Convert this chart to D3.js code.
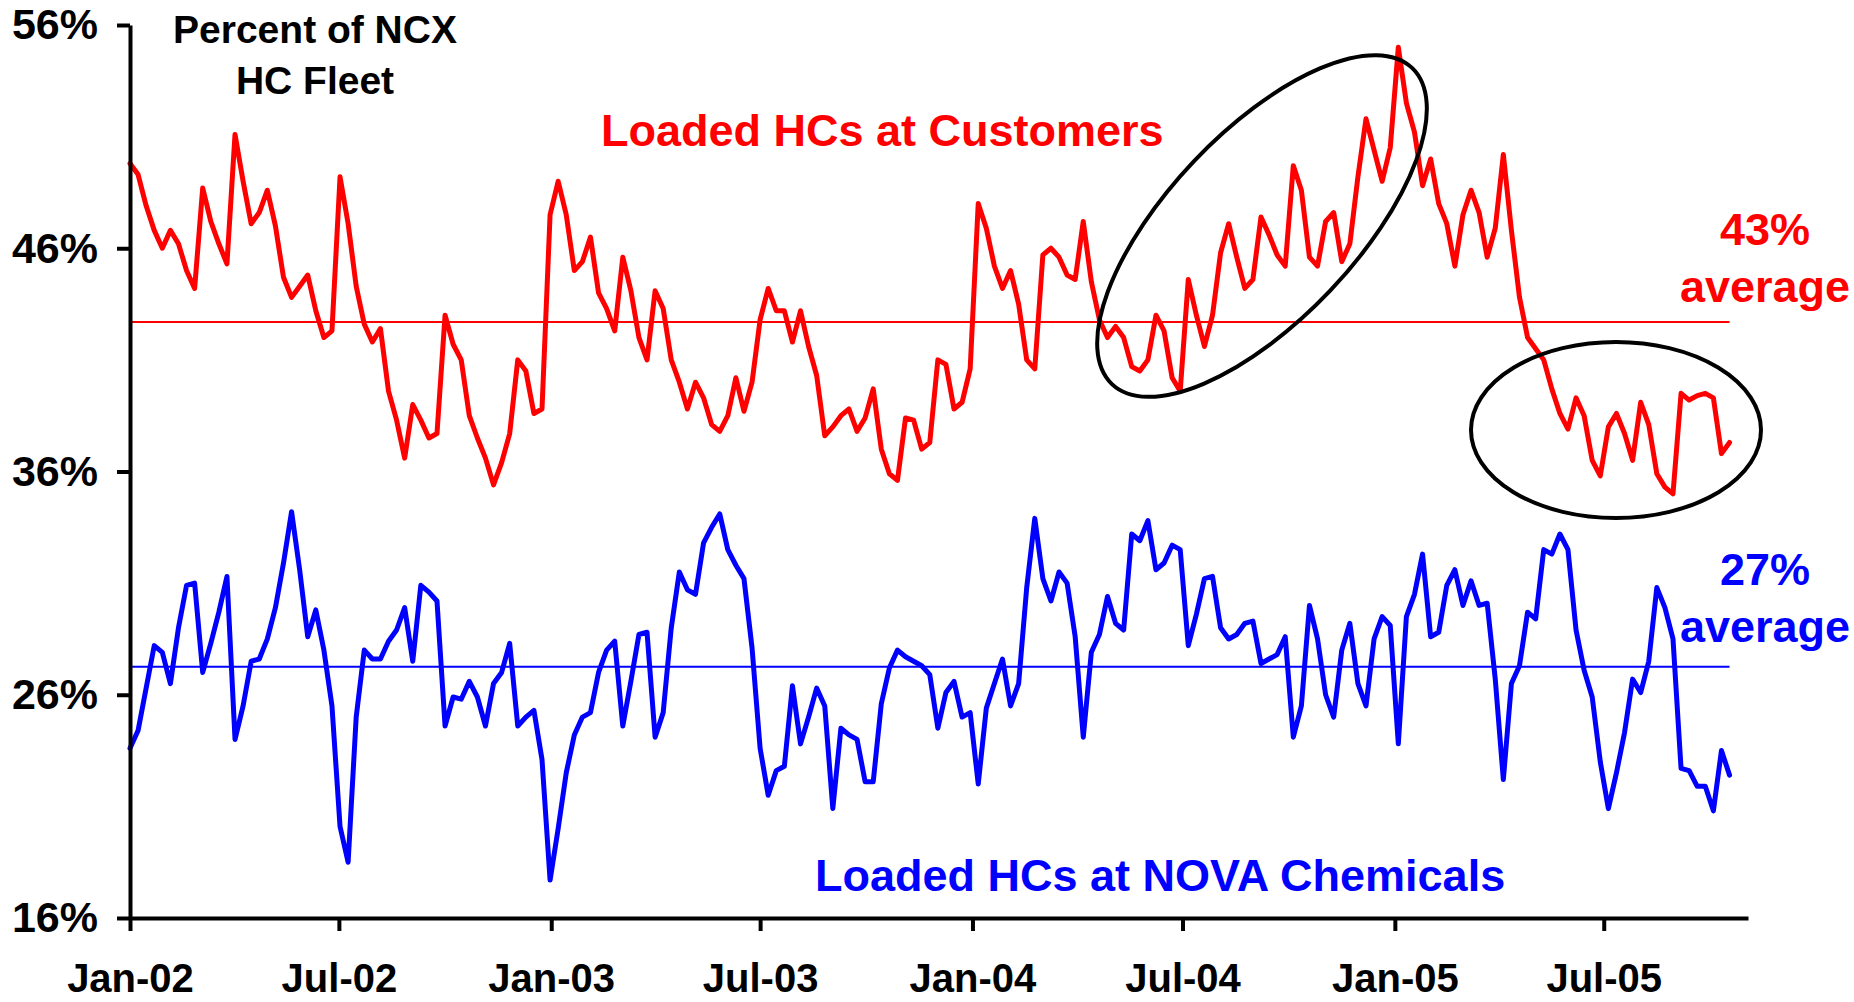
<!DOCTYPE html>
<html>
<head>
<meta charset="utf-8">
<script src="https://cdn.jsdelivr.net/npm/d3@7"></script>
<style>
  html, body { margin: 0; padding: 0; background: #ffffff; }
  svg { display: block; }
  text { font-family: "Liberation Sans", Arial, sans-serif; font-weight: bold; }
</style>
</head>
<body>
<svg id="chart" width="1854" height="1002"></svg>
<script>
// ---------------- data (weekly, first week = Jan 2002) ----------------
const startDate = "2002-01-01";

const customersPct = [
  49.8, 49.3, 47.9, 46.8, 46.0, 46.8, 46.2, 45.0, 44.2, 48.7,
  47.2, 46.2, 45.3, 51.1, 49.0, 47.1, 47.6, 48.6, 47.0, 44.7,
  43.8, 44.3, 44.8, 43.2, 42.0, 42.3, 49.2, 47.1, 44.3, 42.6,
  41.8, 42.4, 39.6, 38.3, 36.6, 39.0, 38.3, 37.5, 37.7, 43.0,
  41.7, 41.0, 38.5, 37.5, 36.6, 35.4, 36.4, 37.7, 41.0, 40.5,
  38.6, 38.8, 47.5, 49.0, 47.5, 45.0, 45.4, 46.5, 44.0, 43.3,
  42.3, 45.6, 44.1, 42.0, 41.0, 44.1, 43.3, 41.0, 40.0, 38.8,
  40.0, 39.3, 38.1, 37.8, 38.5, 40.2, 38.7, 40.0, 42.8, 44.2,
  43.2, 43.2, 41.8, 43.2, 41.6, 40.3, 37.6, 38.0, 38.5, 38.8,
  37.8, 38.4, 39.7, 37.0, 35.9, 35.6, 38.4, 38.3, 37.0, 37.3,
  41.0, 40.8, 38.8, 39.1, 40.6, 48.0, 46.9, 45.2, 44.2, 45.0,
  43.5, 41.0, 40.6, 45.7, 46.0, 45.6, 44.8, 44.6, 47.2, 44.5,
  42.8, 42.0, 42.5, 42.0, 40.7, 40.5, 41.0, 43.0, 42.3, 40.2,
  39.6, 44.6, 43.0, 41.6, 43.0, 45.8, 47.1, 45.6, 44.2, 44.6,
  47.4, 46.6, 45.7, 45.2, 49.7, 48.6, 45.6, 45.2, 47.2, 47.6,
  45.4, 46.2, 49.2, 51.8, 50.4, 49.0, 50.5, 55.0, 52.5, 51.2,
  48.8, 50.0, 48.0, 47.1, 45.2, 47.5, 48.6, 47.6, 45.6, 46.9,
  50.2, 46.8, 43.8, 42.0, 41.5, 41.0, 39.7, 38.6, 37.9, 39.3,
  38.5, 36.5, 35.8, 38.0, 38.6, 37.7, 36.5, 39.1, 38.1, 35.9,
  35.3, 35.0, 39.5, 39.2, 39.4, 39.5, 39.3, 36.8, 37.3
];

const novaPct = [
  23.6, 24.4, 26.3, 28.2, 27.9, 26.5, 29.0, 30.9, 31.0, 27.0,
  28.3, 29.7, 31.3, 24.0, 25.5, 27.5, 27.6, 28.5, 29.9, 31.9,
  34.2, 31.6, 28.6, 29.8, 28.0, 25.5, 20.1, 18.5, 25.0, 28.0,
  27.6, 27.6, 28.4, 28.9, 29.9, 27.5, 30.9, 30.6, 30.2, 24.6,
  25.9, 25.8, 26.6, 25.9, 24.6, 26.5, 27.0, 28.3, 24.6, 25.0,
  25.3, 23.1, 17.7, 20.0, 22.5, 24.2, 25.0, 25.2, 27.0, 28.0,
  28.4, 24.6, 26.6, 28.7, 28.8, 24.1, 25.2, 29.0, 31.5, 30.7,
  30.5, 32.8, 33.5, 34.1, 32.5, 31.8, 31.2, 28.1, 23.6, 21.5,
  22.6, 22.8, 26.4, 23.8, 25.0, 26.3, 25.5, 20.9, 24.5, 24.2,
  24.0, 22.1, 22.1, 25.6, 27.2, 28.0, 27.7, 27.5, 27.3, 26.9,
  24.5, 26.1, 26.6, 25.0, 25.2, 22.0, 25.4, 26.5, 27.6, 25.5,
  26.5, 30.8, 33.9, 31.2, 30.2, 31.5, 31.0, 28.6, 24.1, 27.9,
  28.7, 30.4, 29.2, 28.9, 33.2, 32.9, 33.8, 31.6, 31.9, 32.7,
  32.5, 28.2, 29.6, 31.2, 31.3, 29.0, 28.5, 28.7, 29.2, 29.3,
  27.4, 27.6, 27.8, 28.6, 24.1, 25.5, 30.0, 28.5, 26.0, 25.0,
  28.0, 29.2, 26.5, 25.5, 28.5, 29.5, 29.1, 23.8, 29.5, 30.5,
  32.3, 28.6, 28.8, 30.9, 31.6, 30.0, 31.1, 30.0, 30.1, 26.7,
  22.2, 26.5, 27.3, 29.7, 29.4, 32.5, 32.3, 33.2, 32.5, 28.9,
  27.1, 25.9, 23.0, 20.9, 22.5, 24.3, 26.7, 26.1, 27.5, 30.8,
  29.9, 28.5, 22.7, 22.6, 21.9, 21.9, 20.8, 23.5, 22.4
];

const customersAvg = 42.7;
const novaAvg = 27.25;

const yTickValues = [16, 26, 36, 46, 56];
const xTickLabels = ["Jan-02", "Jul-02", "Jan-03", "Jul-03", "Jan-04", "Jul-04", "Jan-05", "Jul-05"];

const titleLines = ["Percent of NCX", "HC Fleet"];
const customersLabel = "Loaded HCs at Customers";
const novaLabel = "Loaded HCs at NOVA Chemicals";
const customersAvgLabel = ["43%", "average"];
const novaAvgLabel = ["27%", "average"];

// ---------------- chart ----------------
const svg = d3.select("#chart");
const parseLabel = d3.utcParse("%b-%y");
const fmt = d3.utcFormat("%b-%y");
const start = d3.utcParse("%Y-%m-%d")(startDate);
const dates = customersPct.map((_, i) => d3.utcDay.offset(start, 7 * i));

const x = d3.scaleUtc()
  .domain([start, d3.utcParse("%Y-%m-%d")("2005-11-03")])
  .range([130, 1748]);
const y = d3.scaleLinear().domain([16, 56]).range([918, 25]);

const RED = "#ff0000", BLUE = "#0000ff";

// average lines
const lastDate = dates[dates.length - 1];
[[customersAvg, RED], [novaAvg, BLUE]].forEach(([v, c]) => {
  svg.append("line")
    .attr("x1", x(start)).attr("x2", x(lastDate))
    .attr("y1", y(v)).attr("y2", y(v))
    .attr("stroke", c).attr("stroke-width", 2);
});

// series lines
const line = d3.line().x((d, i) => x(dates[i])).y(d => y(d));
svg.append("path").datum(customersPct)
  .attr("d", line).attr("fill", "none").attr("stroke", RED)
  .attr("stroke-width", 5).attr("stroke-linejoin", "round").attr("stroke-linecap", "round");
svg.append("path").datum(novaPct)
  .attr("d", line).attr("fill", "none").attr("stroke", BLUE)
  .attr("stroke-width", 5).attr("stroke-linejoin", "round").attr("stroke-linecap", "round");

// axes
const yAxis = d3.axisLeft(y).tickValues(yTickValues).tickFormat(d => d + "%")
  .tickSize(13).tickSizeOuter(0).tickPadding(19);
const gy = svg.append("g").attr("transform", "translate(130,0)").call(yAxis);

const xAxis = d3.axisBottom(x).tickValues(xTickLabels.map(parseLabel)).tickFormat(fmt)
  .tickSize(13).tickSizeOuter(0).tickPadding(33);
const gx = svg.append("g").attr("transform", "translate(0,918)").call(xAxis);

[gx, gy].forEach(g => {
  g.select(".domain").attr("stroke", "#000").attr("stroke-width", 4);
  g.selectAll(".tick line").attr("stroke", "#000").attr("stroke-width", 4);
  g.selectAll(".tick text").attr("fill", "#000")
    .style("font-family", '"Liberation Sans", Arial, sans-serif')
    .style("font-weight", "bold");
});
gy.selectAll(".tick text").style("font-size", "43px");
gx.selectAll(".tick text").style("font-size", "40px");

// ellipses
svg.append("ellipse")
  .attr("cx", 0).attr("cy", 0).attr("rx", 218).attr("ry", 94)
  .attr("transform", "translate(1262,226) rotate(-46.5)")
  .attr("fill", "none").attr("stroke", "#000").attr("stroke-width", 4);
svg.append("ellipse")
  .attr("cx", 1616).attr("cy", 430).attr("rx", 145).attr("ry", 88)
  .attr("fill", "none").attr("stroke", "#000").attr("stroke-width", 4);

// text
titleLines.forEach((t, i) => {
  svg.append("text").attr("x", 315).attr("y", 43 + i * 51)
    .attr("text-anchor", "middle").attr("font-size", 39).attr("fill", "#000").text(t);
});
svg.append("text").attr("x", 601).attr("y", 146).attr("font-size", 45)
  .attr("fill", RED).text(customersLabel);
svg.append("text").attr("x", 815).attr("y", 891).attr("font-size", 45)
  .attr("fill", BLUE).text(novaLabel);
customersAvgLabel.forEach((t, i) => {
  svg.append("text").attr("x", 1765).attr("y", 245 + i * 57)
    .attr("text-anchor", "middle").attr("font-size", 45).attr("fill", RED).text(t);
});
novaAvgLabel.forEach((t, i) => {
  svg.append("text").attr("x", 1765).attr("y", 585 + i * 57)
    .attr("text-anchor", "middle").attr("font-size", 45).attr("fill", BLUE).text(t);
});
</script>
</body>
</html>
